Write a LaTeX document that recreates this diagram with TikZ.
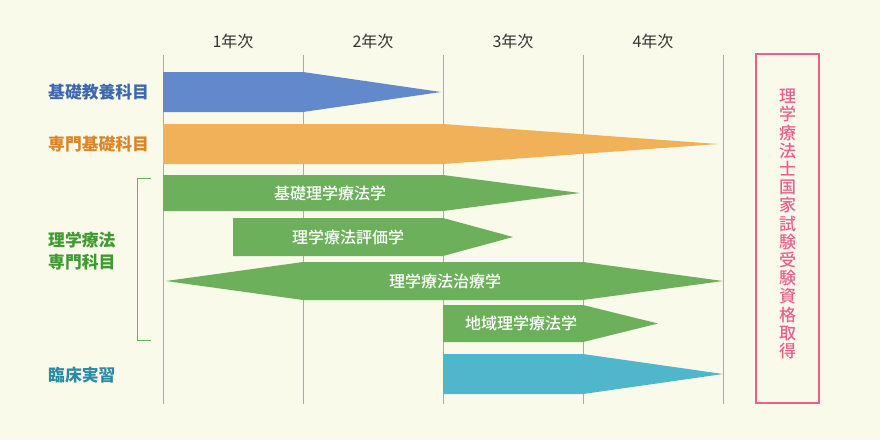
\documentclass[tikz,border=0pt]{standalone}
\usepackage{fontspec}
\setmainfont{Noto Sans CJK JP}
\newfontfamily\jp{Noto Sans CJK JP}
\newfontfamily\jpm{Noto Sans CJK JP Medium}
\definecolor{bg}{HTML}{FAFAEB}
\definecolor{gridc}{HTML}{ABABAB}
\definecolor{barblue}{HTML}{6289CB}
\definecolor{barorange}{HTML}{F0B159}
\definecolor{bargreen}{HTML}{6CB05C}
\definecolor{barcyan}{HTML}{50B6CC}
\definecolor{txtblue}{HTML}{3D68AD}
\definecolor{txtorange}{HTML}{DA8529}
\definecolor{txtgreen}{HTML}{3F9A30}
\definecolor{txtteal}{HTML}{2C8BA3}
\definecolor{pinkc}{HTML}{E8608F}
\definecolor{yeartxt}{HTML}{333333}
\tikzset{
  gridline/.style={draw=gridc,line width=1pt},
  yearlbl/.style={text=yeartxt,font=\jp\fontsize{16}{18}\selectfont,inner sep=0pt},
  sidelbl/.style={font=\jp\bfseries\fontsize{16.8}{22}\selectfont,inner sep=0pt,anchor=west,align=left},
  barlbl/.style={text=white,font=\jpm\fontsize{16}{18}\selectfont,inner sep=0pt},
}
\begin{document}
\begin{tikzpicture}[x=1pt,y=-1pt]
\fill[bg] (0,0) rectangle (880,440);
\useasboundingbox (0,0) rectangle (880,440);
% grid lines
\foreach \gx in {163,303,443,583,723} {
  \draw[gridline] (\gx,55) -- (\gx,404);
}
% year labels
\node[yearlbl] (y1) at (233,41) {1年次};
\node[yearlbl] (y2) at (373,41) {2年次};
\node[yearlbl] (y3) at (513,41) {3年次};
\node[yearlbl] (y4) at (653,41) {4年次};
% bars
\fill[barblue] (163,72) -- (303,72) -- (441,92) -- (303,112) -- (163,112) -- cycle;
\fill[barorange] (163,124) -- (443,124) -- (718,144) -- (443,164) -- (163,164) -- cycle;
\fill[bargreen] (163,175) -- (443,175) -- (580,193) -- (443,211) -- (163,211) -- cycle;
\fill[bargreen] (233,218) -- (443,218) -- (513,237) -- (443,256) -- (233,256) -- cycle;
\fill[bargreen] (166,281) -- (303,262) -- (583,262) -- (723,281) -- (583,300) -- (303,300) -- cycle;
\fill[bargreen] (443,305) -- (583,305) -- (658,323.5) -- (583,342) -- (443,342) -- cycle;
\fill[barcyan] (443,354) -- (583,354) -- (723,374) -- (583,394) -- (443,394) -- cycle;
% bar labels
\node[barlbl] (b1) at (330,193) {基礎理学療法学};
\node[barlbl] (b2) at (348,237) {理学療法評価学};
\node[barlbl] (b3) at (445,281) {理学療法治療学};
\node[barlbl] (b4) at (521,323.5) {地域理学療法学};
% side labels
\node[sidelbl,text=txtblue] (s1) at (48,92.5) {基礎教養科目};
\node[sidelbl,text=txtorange] (s2) at (48,144) {専門基礎科目};
\node[sidelbl,text=txtgreen] (s3) at (48,251) {理学療法\\専門科目};
\node[sidelbl,text=txtteal] (s4) at (48,375.5) {臨床実習};
% bracket
\draw[bargreen,line width=1pt] (151,178.5) -- (137.5,178.5) -- (137.5,340) -- (151,340);
% pink box
\draw[pinkc,line width=2pt] (756,54) rectangle (819,403);
\node[text=pinkc,font=\jpm\fontsize{17}{18.2}\selectfont,align=center,inner sep=0pt] (q) at (787.5,224)
  {理\\学\\療\\法\\士\\国\\家\\試\\験\\受\\験\\資\\格\\取\\得};
\end{tikzpicture}
\end{document}
